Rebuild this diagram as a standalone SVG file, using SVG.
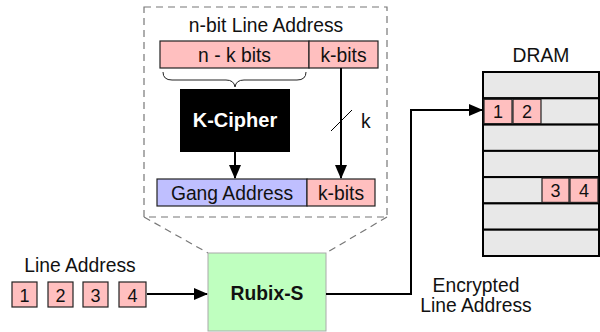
<svg xmlns="http://www.w3.org/2000/svg" width="600" height="332" viewBox="0 0 600 332">
<defs>
<marker id="ah" markerWidth="14" markerHeight="12" refX="13" refY="6" orient="auto" markerUnits="userSpaceOnUse">
<path d="M0,0 L14,6 L0,12 Z" fill="#000"/>
</marker>
<style>
text{font-family:"Liberation Sans",Arial,sans-serif;font-size:19.3px;fill:#111;}
.c{text-anchor:middle;}
.d{font-size:18px;}
.pink{fill:#ffbfbf;stroke:#222;stroke-width:1.2;}
.blue{fill:#bfbfff;stroke:#222;stroke-width:1.2;}
.row{fill:#e8e8e8;stroke:#000;stroke-width:2;}
.dash{fill:none;stroke:#777;stroke-width:1.2;stroke-dasharray:7,5;}
.ln{fill:none;stroke:#000;stroke-width:2;}
</style>
</defs>
<g id="zoombox">
<rect class="dash" x="144" y="7" width="243" height="210"/>
<line class="dash" x1="144" y1="217" x2="208" y2="253"/>
<line class="dash" x1="387" y1="217" x2="326" y2="253"/>
</g>
<g id="title"><text class="c" x="266" y="32">n-bit Line Address</text></g>
<g id="nkbits"><rect class="pink" x="160" y="41" width="149" height="27"/><text class="c" x="234.5" y="62">n - k bits</text></g>
<g id="kbits-top"><rect class="pink" x="309" y="41" width="69" height="27"/><text class="c" x="343.5" y="62">k-bits</text></g>
<g id="brace"><path d="M163,72 Q163,80 172,80 L226,80 Q234,80 235,87 Q236,80 244,80 L297,80 Q306,80 306,72" fill="none" stroke="#222" stroke-width="1"/></g>
<g id="kcipher"><rect x="180" y="89" width="110" height="63" fill="#000"/><text class="c" x="235" y="127" style="fill:#fff;font-weight:bold;font-size:20px">K-Cipher</text></g>
<g id="gang"><rect class="blue" x="157" y="179" width="150" height="27"/><text class="c" x="232" y="200">Gang Address</text></g>
<g id="kbits-bot"><rect class="pink" x="307" y="179" width="68" height="27"/><text class="c" x="341" y="200">k-bits</text></g>
<g id="rubix"><rect x="208" y="253" width="118" height="78" fill="#bfffbf" stroke="#aaa" stroke-width="1"/><text class="c" x="267" y="300" style="font-weight:bold">Rubix-S</text></g>
<g id="lineaddr">
<text class="c" x="80" y="272">Line Address</text>
<rect class="pink" x="12" y="282" width="25" height="25"/><text class="c d" x="24.5" y="302">1</text>
<rect class="pink" x="48" y="282" width="25" height="25"/><text class="c d" x="60.5" y="302">2</text>
<rect class="pink" x="83" y="282" width="25" height="25"/><text class="c d" x="95.5" y="302">3</text>
<rect class="pink" x="119" y="282" width="27" height="25"/><text class="c d" x="132.5" y="302">4</text>
</g>
<g id="dram">
<text class="c" x="541" y="62">DRAM</text>
<rect class="row" x="483" y="72" width="116" height="26.3"/>
<rect class="row" x="483" y="98.3" width="116" height="26.3"/>
<rect class="row" x="483" y="124.6" width="116" height="26.3"/>
<rect class="row" x="483" y="150.9" width="116" height="26.3"/>
<rect class="row" x="483" y="177.1" width="116" height="26.3"/>
<rect class="row" x="483" y="203.4" width="116" height="26.3"/>
<rect class="row" x="483" y="229.7" width="116" height="26.3"/>
<rect class="pink" x="484" y="99.3" width="28" height="24.3"/><text class="c d" x="498" y="118">1</text>
<rect class="pink" x="513" y="99.3" width="28" height="24.3"/><text class="c d" x="527" y="118">2</text>
<rect class="pink" x="542" y="178.1" width="27" height="24.3"/><text class="c d" x="555.5" y="197">3</text>
<rect class="pink" x="570" y="178.1" width="28" height="24.3"/><text class="c d" x="584" y="197">4</text>
</g>
<g id="enc-label"><text class="c" x="476" y="292">Encrypted</text><text class="c" x="476" y="312">Line Address</text></g>
<g id="connectors">
<line class="ln" x1="341" y1="68" x2="341" y2="178" marker-end="url(#ah)"/>
<line x1="331" y1="131" x2="352" y2="110" stroke="#000" stroke-width="1"/>
<text x="361" y="128">k</text>
<line class="ln" x1="235" y1="152" x2="235" y2="178" marker-end="url(#ah)"/>
<line class="ln" x1="147" y1="294" x2="207" y2="294" marker-end="url(#ah)"/>
<polyline class="ln" points="326,294 411,294 411,110 482,110" marker-end="url(#ah)"/>
</g>
</svg>
